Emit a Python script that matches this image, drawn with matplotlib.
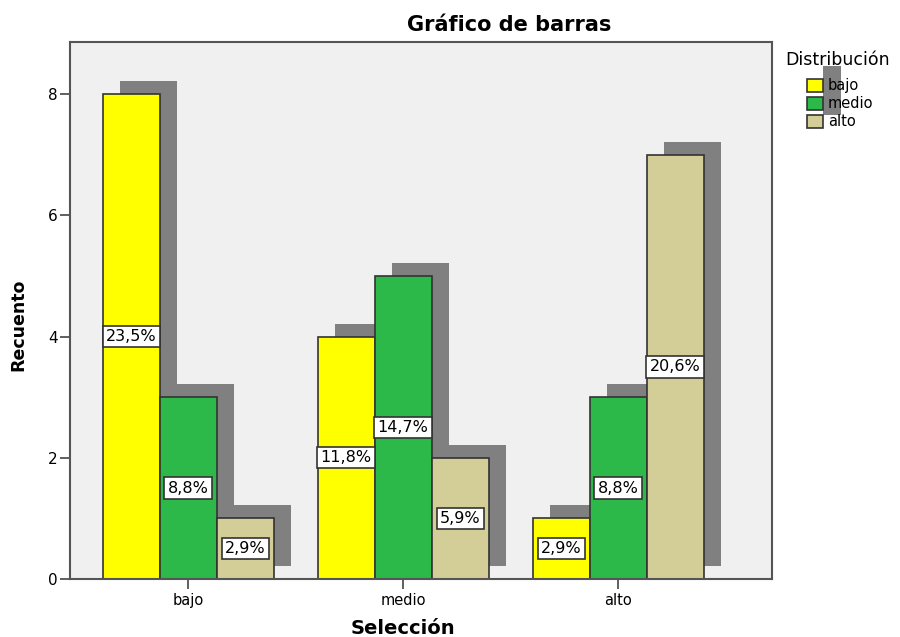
import numpy as np
import matplotlib
matplotlib.use('Agg')
import matplotlib.pyplot as plt
from matplotlib.patches import Rectangle
from matplotlib.transforms import ScaledTranslation

categories = ['bajo', 'medio', 'alto']
series = ['bajo', 'medio', 'alto']
counts = {
    'bajo':  [8, 4, 1],
    'medio': [3, 5, 3],
    'alto':  [1, 2, 7],
}
pct_labels = {
    'bajo':  ['23,5%', '11,8%', '2,9%'],
    'medio': ['8,8%', '14,7%', '8,8%'],
    'alto':  ['2,9%', '5,9%', '20,6%'],
}
colors = {'bajo': '#ffff00', 'medio': '#2db84a', 'alto': '#d3ce97'}

W, H = 900, 637
fig = plt.figure(figsize=(W / 100, H / 100), dpi=100)
ax = fig.add_axes([70 / W, 1 - 579 / H, 702 / W, 537 / H])
ax.set_facecolor('#f0f0f0')

x = np.arange(len(categories))
w = 0.265
shadow = ax.transData + ScaledTranslation(17 / 100, 13 / 100, fig.dpi_scale_trans)

for i, s in enumerate(series):
    xs = x + (i - 1) * w
    ax.bar(xs, counts[s], w, color='#808080', linewidth=0, zorder=1, transform=shadow)
for i, s in enumerate(series):
    xs = x + (i - 1) * w
    ax.bar(xs, counts[s], w, color=colors[s], edgecolor='#333333', linewidth=1.2, zorder=2)
    for xi, v, lab in zip(xs, counts[s], pct_labels[s]):
        ax.text(xi, v / 2, lab, ha='center', va='center', fontsize=11.5, zorder=4,
                bbox=dict(boxstyle='square,pad=0.2', fc='white', ec='#333333', lw=1.2))

ax.set_xlim(-0.549, 2.716)
ax.set_ylim(0, 8.86)
ax.set_yticks([0, 2, 4, 6, 8])
ax.set_xticks(x)
ax.set_xticklabels(categories, fontsize=10.5)
ax.tick_params(axis='y', labelsize=11, length=7, width=1.2, color='#444444', pad=2)
ax.tick_params(axis='x', length=7, width=1.2, color='#444444', pad=3)
for sp in ax.spines.values():
    sp.set_color('#555555')
    sp.set_linewidth(1.5)

fig.text(509 / W, 1 - 25 / H, 'Gráfico de barras', ha='center', va='center',
         fontsize=15, fontweight='bold')
fig.text(18 / W, 1 - 325 / H, 'Recuento', ha='center', va='center', rotation=90,
         fontsize=12.5, fontweight='bold')
fig.text(403 / W, 1 - 628 / H, 'Selección', ha='center', va='center',
         fontsize=14, fontweight='bold')

# legend
fig.text(785 / W, 1 - 60 / H, 'Distribución', ha='left', va='center', fontsize=12.5)
fig.add_artist(Rectangle((823 / W, 1 - 115 / H), 18 / W, 49 / H,
                         transform=fig.transFigure, color='#808080', lw=0))
for k, s in enumerate(series):
    top = 79 + k * 18
    fig.add_artist(Rectangle((807 / W, 1 - (top + 13) / H), 16 / W, 13 / H,
                             transform=fig.transFigure, fc=colors[s],
                             ec='#333333', lw=1.2))
    fig.text(828 / W, 1 - (top + 6.5) / H, s, ha='left', va='center', fontsize=10.5)

fig.savefig('out.png', dpi=100)
